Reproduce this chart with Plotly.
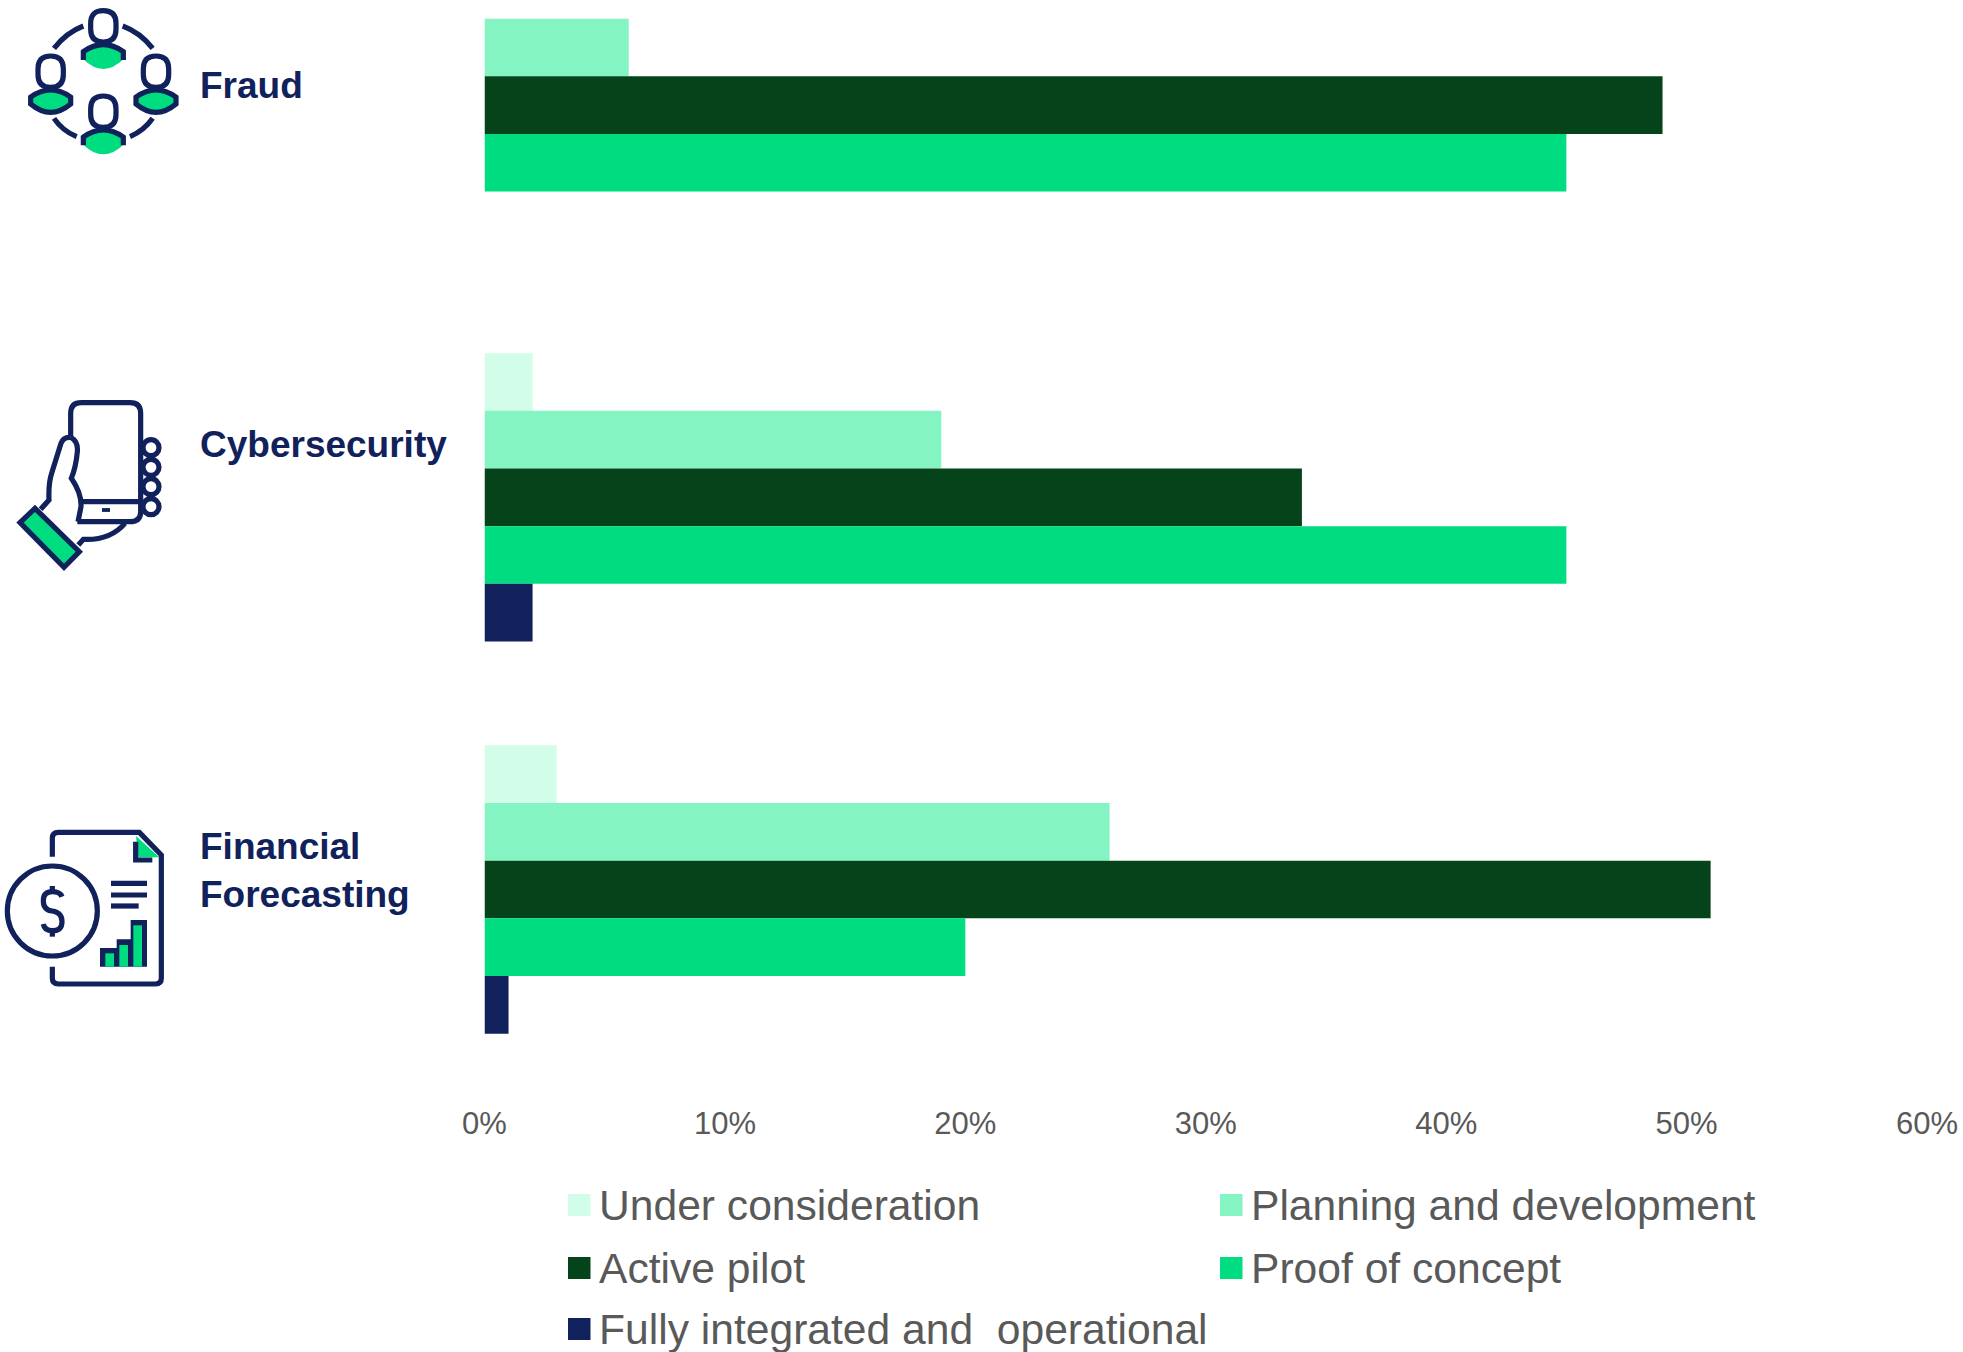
import re
import plotly.graph_objects as go

# Survey results, percent of respondents per stage and use case
categories = ["Fraud", "Cybersecurity", "Financial<br>Forecasting"]
under_consideration = [0, 2, 3]
planning_and_development = [6, 19, 26]
active_pilot = [49, 34, 51]
proof_of_concept = [45, 45, 20]
fully_integrated = [0, 2, 1]

stage_names = ["Under consideration", "Planning and development", "Active pilot",
               "Proof of concept", "Fully integrated and  operational"]
stage_values = [under_consideration, planning_and_development, active_pilot,
                proof_of_concept, fully_integrated]
stage_colors = ["#D1FDE9", "#84F4C3", "#05431B", "#00DD80", "#10215B"]

NAVY = "#10215B"
GREEN = "#00DD80"
GREY = "#595959"
FONT = "Liberation Sans"
W, H = 1963, 1352


def px(x):
    return x / W


def py(y):
    return 1 - y / H


def vector(path, dx=0.0, dy=0.0, scale=1 / 3):
    """Convert an absolute M/L/Q/C/Z path in icon units to paper coordinates."""
    out, is_x = [], True
    for tok in re.findall(r"[MLQCZ]|-?\d+\.?\d*", path):
        if tok in "MLQCZ":
            out.append(tok)
            is_x = True
        elif is_x:
            out.append(f"{px(float(tok) * scale + dx):.6f}")
            is_x = False
        else:
            out.append(f"{py(float(tok) * scale + dy):.6f}")
            is_x = True
    return " ".join(out)


shapes = []


def stroke(path, dx=0.0, dy=0.0, width=5.2, fill="rgba(0,0,0,0)", color=NAVY):
    shapes.append(dict(type="path", xref="paper", yref="paper", path=vector(path, dx, dy),
                       line=dict(color=color, width=width), fillcolor=fill))


def solid(path, dx=0.0, dy=0.0, fill=GREEN):
    shapes.append(dict(type="path", xref="paper", yref="paper", path=vector(path, dx, dy),
                       line=dict(width=0), fillcolor=fill))


def ring(cx, cy, r, dy=0.0, width=5.2):
    cx, cy, r = cx / 3, cy / 3 + dy, r / 3
    shapes.append(dict(type="circle", xref="paper", yref="paper",
                       x0=px(cx - r), x1=px(cx + r), y0=py(cy + r), y1=py(cy - r),
                       line=dict(color=NAVY, width=width), fillcolor="rgba(0,0,0,0)"))


def person(ox, oy, closed):
    head = (f"M {ox - 38} {oy + 70} Q {ox - 38} {oy + 32} {ox} {oy + 32} "
            f"Q {ox + 38} {oy + 32} {ox + 38} {oy + 70} L {ox + 38} {oy + 88} "
            f"Q {ox + 38} {oy + 126} {ox} {oy + 126} Q {ox - 38} {oy + 126} {ox - 38} {oy + 88} Z")
    stroke(head)
    lens = (f"M {ox - 60} {oy + 160} Q {ox} {oy + 108} {ox + 60} {oy + 160} "
            f"L {ox + 60} {oy + 178} Q {ox} {oy + 236} {ox - 60} {oy + 178} Z")
    solid(lens)
    if closed:
        stroke(f"M {ox - 60} {oy + 155} Q {ox} {oy + 112} {ox + 60} {oy + 155} L {ox + 60} {oy + 176} "
               f"Q {ox} {oy + 226} {ox - 60} {oy + 176} Z")
    else:
        stroke(f"M {ox - 60} {oy + 180} L {ox - 60} {oy + 155} Q {ox} {oy + 112} {ox + 60} {oy + 155} "
               f"L {ox + 60} {oy + 180}")


# People network icon
person(310, 0, False)
person(152, 136, True)
person(468, 136, True)
person(310, 256, False)
stroke("M 162 145 Q 200 97 250 78")
stroke("M 368 78 Q 420 97 458 145")
stroke("M 162 355 Q 187 392 230 410")
stroke("M 390 410 Q 432 392 458 355")

# Phone in hand icon
PHONE_Y = 380
stroke("M 212 170 L 212 100 Q 212 68 244 68 L 390 68 Q 422 68 422 100 L 422 395 "
       "Q 422 425 390 425 L 232 425", dy=PHONE_Y)
stroke("M 248 365 L 422 365", dy=PHONE_Y)
stroke("M 306 390 L 330 390", dy=PHONE_Y, width=3.8)
for finger_y in (203, 262, 320, 380):
    ring(453, finger_y, 24, dy=PHONE_Y)
stroke("M 212 172 Q 190 170 183 190 L 155 280 Q 145 310 147 360 L 122 388", dy=PHONE_Y)
stroke("M 212 172 Q 235 185 232 215 Q 228 260 214 295 Q 245 340 243 380 L 234 425", dy=PHONE_Y)
stroke("M 375 430 Q 330 482 250 478 L 235 495", dy=PHONE_Y)
stroke("M 105 385 L 238 515 L 192 562 L 60 428 Z", dy=PHONE_Y, fill=GREEN)

# Financial document icon
DOC_Y = 800
solid("M 408 108 L 478 172 L 415 172 Z", dy=DOC_Y)
stroke("M 157 170 L 157 115 Q 157 97 175 97 L 418 97 L 484 165 L 484 535 Q 484 552 467 552 "
       "L 175 552 Q 157 552 157 535 L 157 500", dy=DOC_Y)
stroke("M 407 125 L 407 180 L 457 180", dy=DOC_Y)
ring(157, 333, 135, dy=DOC_Y)
stroke("M 186 290 Q 180 275 157 275 Q 130 275 130 302 Q 130 330 157 333 Q 186 337 186 365 "
       "Q 186 392 157 392 Q 133 392 130 372", dy=DOC_Y)
stroke("M 157 258 L 157 275", dy=DOC_Y)
stroke("M 157 392 L 157 410", dy=DOC_Y)
stroke("M 333 250 L 441 250", dy=DOC_Y)
stroke("M 333 285 L 441 285", dy=DOC_Y)
stroke("M 333 318 L 416 318", dy=DOC_Y)
solid("M 300 444 L 350 444 L 350 418 L 392 418 L 392 360 L 441 360 L 441 500 L 300 500 Z",
      dy=DOC_Y, fill=NAVY)
solid("M 316 460 L 342 460 L 342 500 L 316 500 Z", dy=DOC_Y)
solid("M 358 435 L 384 435 L 384 500 L 358 500 Z", dy=DOC_Y)
solid("M 400 376 L 426 376 L 426 500 L 400 500 Z", dy=DOC_Y)

fig = go.Figure()
for name, values, color in zip(stage_names, stage_values, stage_colors):
    fig.add_trace(go.Bar(y=categories, x=values, name=name, orientation="h",
                         marker=dict(color=color, line=dict(width=0)), showlegend=False))

annotations = []

# Use case labels beside the icons
label_y = [85, 444, 870.5]
for text, y in zip(categories, label_y):
    annotations.append(dict(text=text, xref="paper", yref="paper", x=px(198), y=py(y),
                            xanchor="left", yanchor="middle", align="left", showarrow=False,
                            font=dict(family=FONT, size=37, color=NAVY, weight="bold")))

# Two-column key under the axis
key_x = [568, 1220, 568, 1220, 568]
key_y = [1205, 1205, 1268, 1268, 1329]
for name, color, kx, ky in zip(stage_names, stage_colors, key_x, key_y):
    shapes.append(dict(type="rect", xref="paper", yref="paper", x0=px(kx), x1=px(kx + 22.5),
                       y0=py(ky + 11), y1=py(ky - 11), line=dict(width=0), fillcolor=color))
    annotations.append(dict(text=name.replace("  ", "\u00a0 "), xref="paper", yref="paper",
                            x=px(kx + 29), y=py(ky - 0.5), xanchor="left", yanchor="middle",
                            showarrow=False, font=dict(family=FONT, size=42.6, color=GREY)))

fig.update_layout(
    width=W, height=H, margin=dict(l=0, r=0, t=0, b=0, autoexpand=False),
    paper_bgcolor="white", plot_bgcolor="white",
    barmode="group", bargap=0.265, bargroupgap=0,
    shapes=shapes, annotations=annotations,
    xaxis=dict(domain=[px(484.5), px(1927)], range=[0, 60], dtick=10, ticksuffix="%",
               automargin=False, showgrid=False, zeroline=False, showline=False,
               ticks="outside", ticklen=10, tickcolor="rgba(0,0,0,0)",
               tickfont=dict(family=FONT, size=31, color=GREY)),
    yaxis=dict(domain=[py(1085.6), 1], range=[2.5, -0.268], showticklabels=False,
               automargin=False, showgrid=False, zeroline=False, showline=False, ticks=""),
)

fig.write_html("out.html")
